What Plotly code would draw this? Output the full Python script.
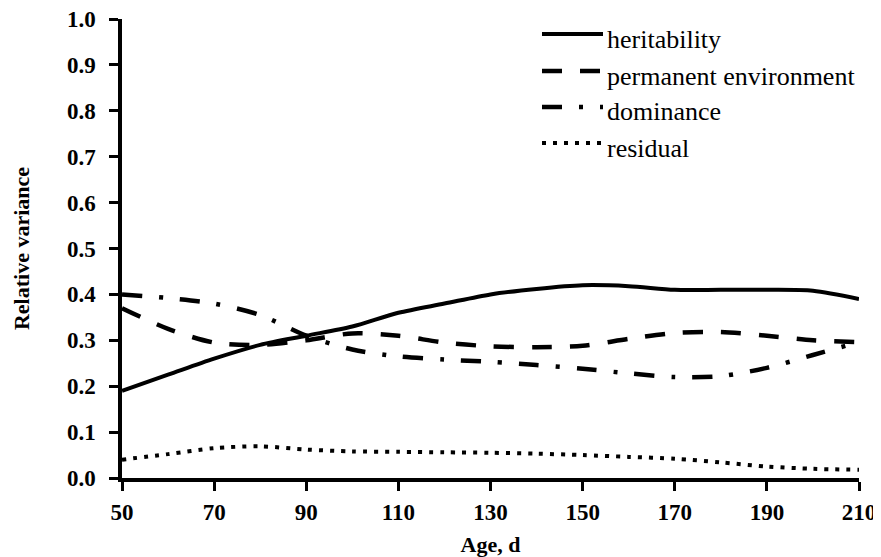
import plotly.graph_objects as go

age = [50, 60, 70, 80, 90, 100, 110, 120, 130, 140, 150, 160, 170, 180, 190, 200, 210]
heritability = [0.19, 0.225, 0.26, 0.29, 0.31, 0.33, 0.36, 0.38, 0.40, 0.412, 0.42, 0.418, 0.41, 0.41, 0.41, 0.408, 0.39]
perm_env = [0.37, 0.325, 0.295, 0.29, 0.30, 0.315, 0.31, 0.295, 0.287, 0.285, 0.288, 0.303, 0.316, 0.318, 0.31, 0.30, 0.296]
dominance = [0.40, 0.392, 0.38, 0.355, 0.31, 0.28, 0.265, 0.258, 0.253, 0.246, 0.238, 0.228, 0.22, 0.222, 0.24, 0.268, 0.296]
residual = [0.04, 0.052, 0.065, 0.069, 0.062, 0.058, 0.057, 0.056, 0.055, 0.053, 0.05, 0.046, 0.042, 0.034, 0.025, 0.02, 0.018]

x_ticks = [50, 70, 90, 110, 130, 150, 170, 190, 210]
y_ticks = [0.0, 0.1, 0.2, 0.3, 0.4, 0.5, 0.6, 0.7, 0.8, 0.9, 1.0]
y_tick_labels = ["0.0", "0.1", "0.2", "0.3", "0.4", "0.5", "0.6", "0.7", "0.8", "0.9", "1.0"]

series_names = ["heritability", "permanent environment", "dominance", "residual"]
series_values = [heritability, perm_env, dominance, residual]
dashes = ["solid", "20px,18px", "20px,17px,4px,17px", "4px,7px"]
widths = [4, 4.5, 4.5, 4]

# page has an 8px body margin; lay out in page pixels
OFF = 8
W, H = 881 - OFF, 557 - OFF
PL, PR, PT, PB = 122, 859, 19, 478  # plot area in page pixels
ML, MR, MT, MB = PL - OFF, W - (PR - OFF), PT - OFF, H - (PB - OFF)
PW = PR - PL
PH = PB - PT

fig = go.Figure()
for name, vals, d, w in zip(series_names, series_values, dashes, widths):
    fig.add_trace(go.Scatter(x=age, y=vals, mode="lines", name=name,
                             line=dict(color="black", width=w, dash=d, shape="spline", smoothing=0.8),
                             showlegend=False, cliponaxis=False))

def px2paper_x(px):
    return (px - PL) / PW

def px2paper_y(py):
    return (PB - py) / PH

# manual legend
legend_rows = [34, 71, 107, 143]
shapes = []
annotations = []
for name, d, w, ry in zip(series_names, dashes, widths, legend_rows):
    shapes.append(dict(type="line", xref="paper", yref="paper",
                       x0=px2paper_x(542), x1=px2paper_x(603),
                       y0=px2paper_y(ry), y1=px2paper_y(ry),
                       line=dict(color="black", width=w, dash=d)))
    annotations.append(dict(xref="paper", yref="paper", x=px2paper_x(605), y=px2paper_y(ry + 5),
                            xanchor="left", yanchor="middle", text=name, showarrow=False,
                            font=dict(family="Liberation Serif", size=26, color="black")))

fig.update_layout(
    width=W, height=H,
    margin=dict(l=ML, r=MR, t=MT, b=MB, autoexpand=False),
    paper_bgcolor="white", plot_bgcolor="white",
    font=dict(family="Liberation Serif", color="black"),
    shapes=shapes, annotations=annotations,
)
fig.update_xaxes(range=[50, 210], tickvals=x_ticks, showgrid=False, zeroline=False, automargin=False,
                 showline=True, linecolor="black", linewidth=3.5,
                 ticks="outside", ticklen=9, tickwidth=3, tickcolor="black",
                 ticklabelstandoff=2, ticklabeloverflow="allow",
                 tickfont=dict(family="Liberation Serif", size=23, color="black", weight="bold"),
                 title=dict(text="<b>Age, d</b>", font=dict(family="Liberation Serif", size=22, color="black"), standoff=13))
fig.update_yaxes(range=[0, 1.0], tickvals=y_ticks, ticktext=y_tick_labels, showgrid=False, zeroline=False, automargin=False,
                 showline=True, linecolor="black", linewidth=3.5,
                 ticks="outside", ticklen=9, tickwidth=3, tickcolor="black",
                 ticklabelstandoff=9, ticklabeloverflow="allow",
                 tickfont=dict(family="Liberation Serif", size=23, color="black", weight="bold"),
                 title=dict(text="<b>Relative variance</b>", font=dict(family="Liberation Serif", size=22, color="black"), standoff=32))

fig.write_html("out.html")
